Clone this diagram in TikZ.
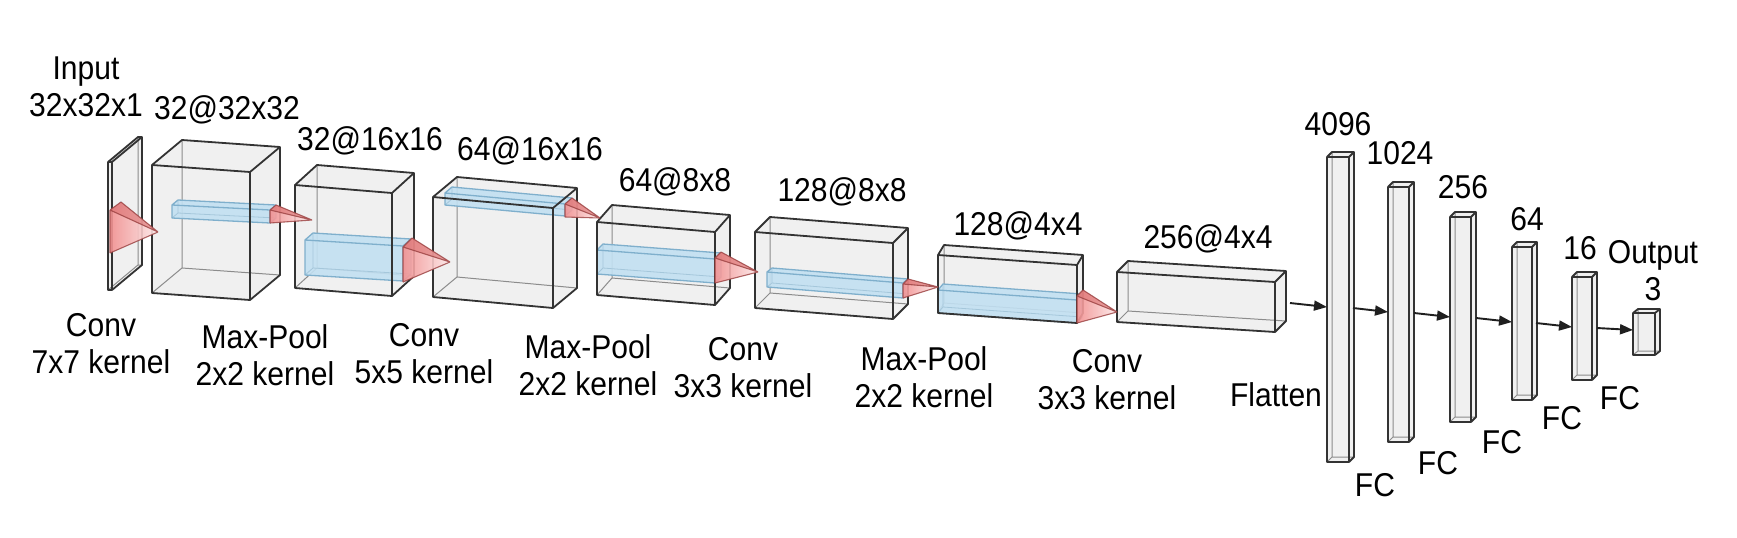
\documentclass[tikz,border=0pt]{standalone}
\usepackage{fontspec}
\setmainfont{Liberation Sans}[FakeStretch=0.91]
\usetikzlibrary{arrows.meta}
\definecolor{barblue}{HTML}{C2E0F2}
\definecolor{baredge}{HTML}{7FAFCC}
\definecolor{conered}{HTML}{F29090}
\definecolor{conedark}{HTML}{D86A6A}
\definecolor{coneedge}{HTML}{9A4040}
\tikzset{
  boxfill/.style={fill=black!8, fill opacity=0.75},
  boxedge/.style={draw=black!80, line width=0.9pt, line join=round},
  boxhid/.style={draw=black!45, line width=0.5pt},
  barfill/.style={fill=barblue, fill opacity=0.9},
  baredge/.style={draw=baredge, line width=0.65pt, line join=round},
  barhid/.style={draw=baredge!70, line width=0.4pt},
  lbl/.style={font=\fontsize{16.5}{18.5}\selectfont, align=center, inner sep=0pt},
  arr/.style={draw=black!88, line width=0.95pt, -{Triangle[length=6.5pt,width=5pt]}},
}
% kind, name, x, y, w, h, s, dx, dy  (pixel units, y downward)
\newcommand\cuboid[9]{%
  \coordinate (#2A) at (#3,#4);
  \coordinate (#2B) at ({#3+#5},{#4+#7});
  \coordinate (#2C) at ({#3+#5},{#4+#7+#6});
  \coordinate (#2D) at (#3,{#4+#6});
  \coordinate (#2Ab) at ({#3+#8},{#4+#9});
  \coordinate (#2Bb) at ({#3+#5+#8},{#4+#7+#9});
  \coordinate (#2Cb) at ({#3+#5+#8},{#4+#7+#6+#9});
  \coordinate (#2Db) at ({#3+#8},{#4+#6+#9});
  \fill[#1fill] (#2A)--(#2Ab)--(#2Bb)--(#2Cb)--(#2C)--(#2D)--cycle;
  \draw[#1hid] (#2D)--(#2Db)--(#2Ab) (#2Db)--(#2Cb);
}
\newcommand\cubefront[2]{%
  \draw[#1edge] (#2A)--(#2B)--(#2C)--(#2D)--cycle
    (#2A)--(#2Ab)--(#2Bb)--(#2Cb)--(#2C) (#2B)--(#2Bb);
}
% front top, front bottom, back top, tip
\newcommand\kcone[4]{%
  \shade[left color=conered, right color=conered!20, opacity=0.9] (#3) -- (#4) -- (#2) -- (#1) -- cycle;
  \fill[conedark, opacity=0.55] (#3) -- (#4) -- (#1) -- cycle;
  \draw[coneedge, line width=0.55pt, opacity=0.8] (#1) -- (#4) (#3) -- (#4) (#2) -- (#4) (#1) -- (#2) (#1) -- (#3);
}
\begin{document}
\begin{tikzpicture}[x=0.5pt, y=-0.5pt]
\useasboundingbox (0,0) rectangle (1737,537);
\fill[white] (0,0) rectangle (1737,537);

% input plane
\cuboid{box}{in}{108}{162}{4}{128}{0}{30}{-25}
\fill[barblue] (112,211) -- (121,201) -- (124,208) -- cycle;
\cubefront{box}{in}

% block 1
\cuboid{box}{b1}{152}{165}{98}{128}{7}{30}{-25}
\cuboid{bar}{r1}{172}{205}{98}{13}{5}{6}{-5}
\cubefront{bar}{r1}
\cubefront{box}{b1}

% block 2
\cuboid{box}{b2}{295}{185}{97}{103}{8}{22}{-20}
\cuboid{bar}{r2}{305}{240}{98}{35}{6}{8}{-7}
\cubefront{bar}{r2}
\cubefront{box}{b2}

% block 3
\cuboid{box}{b3}{433}{197}{120}{100}{11}{24}{-20}
\cuboid{bar}{r3}{445}{193}{120}{12}{11}{7}{-6}
\cubefront{bar}{r3}
\cubefront{box}{b3}

% block 4
\cuboid{box}{b4}{597}{222}{118}{73}{10}{15}{-17}
\cuboid{bar}{r4}{597}{250}{118}{24}{9}{6}{-6}
\cubefront{bar}{r4}
\cubefront{box}{b4}

% block 5
\cuboid{box}{b5}{755}{232}{138}{76}{11}{15}{-15}
\cuboid{bar}{r5}{767}{272}{136}{15}{11}{5}{-4}
\cubefront{bar}{r5}
\cubefront{box}{b5}

% block 6
\cuboid{box}{b6}{938}{255}{139}{58}{10}{6}{-10}
\cuboid{bar}{r6}{938}{290}{139}{23}{10}{5}{-6}
\cubefront{bar}{r6}
\cubefront{box}{b6}

% block 7
\cuboid{box}{b7}{1117}{272}{158}{50}{10}{11}{-11}
\cubefront{box}{b7}

% cones
\kcone{110,210}{110,253}{121,202}{158,232}
\kcone{270,210}{270,223}{276,205}{312,220}
\kcone{403,247}{403,282}{412,238}{450,262}
\kcone{565,204}{565,217}{572,198}{600,218}
\kcone{715,258}{715,283}{721,252}{758,272}
\kcone{903,284}{903,298}{908,279}{938,287}
\kcone{1077,296}{1077,323}{1083,290}{1117,312}

% FC bars
\cuboid{box}{f1}{1327}{157}{22}{305}{0}{5}{-5}
\cubefront{box}{f1}
\cuboid{box}{f2}{1388}{187}{21}{255}{0}{5}{-5}
\cubefront{box}{f2}
\cuboid{box}{f3}{1450}{217}{21}{205}{0}{5}{-5}
\cubefront{box}{f3}
\cuboid{box}{f4}{1512}{247}{20}{153}{0}{5}{-5}
\cubefront{box}{f4}
\cuboid{box}{f5}{1572}{277}{20}{103}{0}{5}{-5}
\cubefront{box}{f5}
\cuboid{box}{f6}{1633}{313}{22}{42}{0}{5}{-4}
\cubefront{box}{f6}

% connector end points
\coordinate (b7out) at (1290,303);
\coordinate (fc1in) at (1327,307);
\coordinate (fc1out) at (1353,308);
\coordinate (fc2in) at (1388,312);
\coordinate (fc2out) at (1414,313);
\coordinate (fc3in) at (1450,317);
\coordinate (fc3out) at (1476,318);
\coordinate (fc4in) at (1512,322);
\coordinate (fc4out) at (1536,323);
\coordinate (fc5in) at (1572,327);
\coordinate (fc5out) at (1597,328);
\coordinate (outin) at (1633,330);
\draw[arr] (b7out) -- (fc1in);
\draw[arr] (fc1out) -- (fc2in);
\draw[arr] (fc2out) -- (fc3in);
\draw[arr] (fc3out) -- (fc4in);
\draw[arr] (fc4out) -- (fc5in);
\draw[arr] (fc5out) -- (outin);

% top labels
\node[lbl] (tIn) at (86,87) {Input\\32x32x1};
\node[lbl] (t1) at (227,110) {32@32x32};
\node[lbl] (t2) at (370,141) {32@16x16};
\node[lbl] (t3) at (530,151) {64@16x16};
\node[lbl] (t4) at (675,182) {64@8x8};
\node[lbl] (t5) at (842,192) {128@8x8};
\node[lbl] (t6) at (1018,226) {128@4x4};
\node[lbl] (t7) at (1208,239) {256@4x4};
\node[lbl] (t8) at (1338,124) {4096};
\node[lbl] (t9) at (1400,153) {1024};
\node[lbl] (t10) at (1463,187) {256};
\node[lbl] (t11) at (1527,219) {64};
\node[lbl] (t12) at (1580,248) {16};
\node[lbl] (t13) at (1653,271) {Output\\3};

% bottom labels
\node[lbl] (l1) at (101,344) {Conv\\7x7 kernel};
\node[lbl] (l2) at (265,355) {Max-Pool\\2x2 kernel};
\node[lbl] (l3) at (424,354) {Conv\\5x5 kernel};
\node[lbl] (l4) at (588,365) {Max-Pool\\2x2 kernel};
\node[lbl] (l5) at (743,368) {Conv\\3x3 kernel};
\node[lbl] (l6) at (924,377) {Max-Pool\\2x2 kernel};
\node[lbl] (l7) at (1107,380) {Conv\\3x3 kernel};
\node[lbl] (l8) at (1276,395) {Flatten};
\node[lbl] (l9) at (1375,485) {FC};
\node[lbl] (l10) at (1438,463) {FC};
\node[lbl] (l11) at (1502,442) {FC};
\node[lbl] (l12) at (1562,418) {FC};
\node[lbl] (l13) at (1620,398) {FC};
\end{tikzpicture}
\end{document}
